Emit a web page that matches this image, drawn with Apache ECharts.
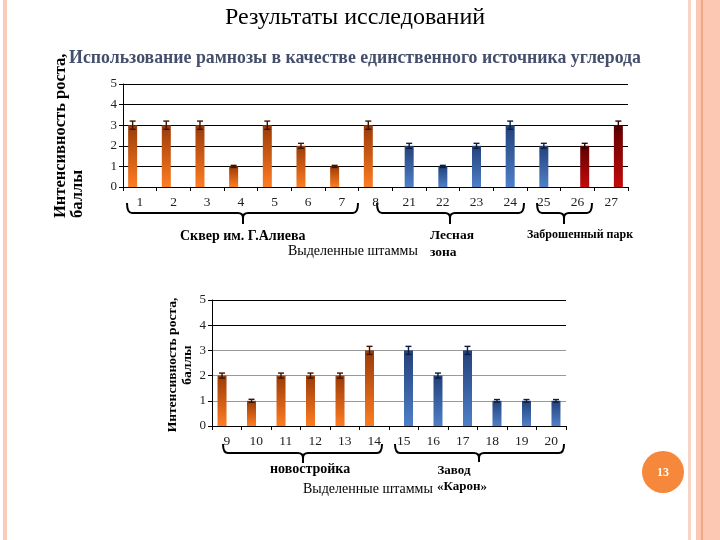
<!DOCTYPE html>
<html>
<head>
<meta charset="utf-8">
<script src="https://cdn.jsdelivr.net/npm/echarts@6/dist/echarts.min.js"></script>
<style>html,body{margin:0;padding:0;background:#fff}#c{width:720px;height:540px}</style>
</head>
<body>
<div id="c"></div>
<script>
// ---- Data: chart 1 (upper) ----
const cats1 = ['1','2','3','4','5','6','7','8','21','22','23','24','25','26','27'];
const orange1 = [3,3,3,1,3,2,1,3,null,null,null,null,null,null,null];
const blue1   = [null,null,null,null,null,null,null,null,2,1,2,3,2,null,null];
const red1    = [null,null,null,null,null,null,null,null,null,null,null,null,null,2,3];
const errOrange1 = [0.2,0.2,0.2,0.05,0.2,0.12,0.05,0.2,null,null,null,null,null,null,null];
const errBlue1   = [null,null,null,null,null,null,null,null,0.12,0.05,0.12,0.2,0.12,null,null];
const errRed1    = [null,null,null,null,null,null,null,null,null,null,null,null,null,0.12,0.2];

// ---- Data: chart 2 (lower) ----
const cats2 = ['9','10','11','12','13','14','15','16','17','18','19','20'];
const orange2 = [2,1,2,2,2,3,null,null,null,null,null,null];
const blue2   = [null,null,null,null,null,null,3,2,3,1,1,1];
const errOrange2 = [0.1,0.06,0.1,0.1,0.1,0.16,null,null,null,null,null,null];
const errBlue2   = [null,null,null,null,null,null,0.16,0.1,0.16,0.05,0.05,0.05];

const yTicks = [0,1,2,3,4,5];

// ---- Styles ----
const SERIF = '"Liberation Serif","Times New Roman",serif';
const BW1 = 9, GAP1 = -0.2;   // chart1 bar width / gap
const BW2 = 9, GAP2 = 0.05;   // chart2
const step1 = BW1*(1+GAP1), step2 = BW2*(1+GAP2);

function grad(top, bottom){
  return new echarts.graphic.LinearGradient(0,0,0,1,[{offset:0,color:top},{offset:1,color:bottom}]);
}
const ORANGE = grad('#9a3a08','#ff7d22');
const BLUE = grad('#22417a','#4f80c8');
const RED = grad('#5e0000','#c40a0a');

function toErr(vals, errs){
  return vals.map((v,i)=> v==null ? null : [i, v, errs[i]]).filter(Boolean);
}
function errRender(offset, color){
  return function(params, api){
    const x = api.value(0), v = api.value(1), e = api.value(2);
    const t = api.coord([x, v+e]), b = api.coord([x, v-e]);
    const cx = t[0] + offset, cap = 3;
    const st = {stroke: color, lineWidth: 1.4};
    return {type:'group', children:[
      {type:'line', shape:{x1:cx,y1:t[1],x2:cx,y2:b[1]}, style:st},
      {type:'line', shape:{x1:cx-cap,y1:t[1],x2:cx+cap,y2:t[1]}, style:st},
      {type:'line', shape:{x1:cx-cap,y1:b[1],x2:cx+cap,y2:b[1]}, style:st}
    ]};
  };
}

function xAxisCfg(grid, data){
  return {type:'category', gridIndex:grid, data:data,
    axisLine:{lineStyle:{color:'#000', width:1}},
    axisTick:{show:true, length:4, lineStyle:{color:'#000'}},
    axisLabel:{fontFamily:SERIF, fontSize:13.5, color:'#222', margin:8}};
}
function yAxisCfg(grid, splitColors){
  return {type:'value', gridIndex:grid, min:yTicks[0], max:yTicks[yTicks.length-1], interval:1,
    axisLine:{show:true, lineStyle:{color:'#000'}},
    axisTick:{show:true, length:4, lineStyle:{color:'#000'}},
    axisLabel:{fontFamily:SERIF, fontSize:13, color:'#222', margin:6},
    splitLine:{show:true, lineStyle:{color:splitColors, width:1}}};
}

function brace(x1, x2, xm, yTop, yMid, yBot){
  const r = 5;
  const st = {stroke:'#000', lineWidth:2, fill:null};
  const q = (ax,ay,cx,cy,bx,by)=>({type:'bezierCurve', shape:{x1:ax,y1:ay,cpx1:cx,cpy1:cy,x2:bx,y2:by}, style:st});
  const l = (ax,ay,bx,by)=>({type:'line', shape:{x1:ax,y1:ay,x2:bx,y2:by}, style:st});
  return {type:'group', z:10, children:[
    q(x1,yTop, x1,yMid, x1+r,yMid),
    l(x1+r,yMid, xm-r,yMid),
    q(xm-r,yMid, xm,yMid, xm,yMid+r),
    l(xm,yMid+r, xm,yBot),
    q(xm,yMid+r, xm,yMid, xm+r,yMid),
    l(xm+r,yMid, x2-r,yMid),
    q(x2-r,yMid, x2,yMid, x2,yTop)
  ]};
}
function txt(x, y, text, font, fill, align){
  return {type:'text', x:x, y:y, z:10, style:{text:text, font:font, fill:fill||'#000', align:align||'left', verticalAlign:'middle'}};
}

const chart = echarts.init(document.getElementById('c'), null, {renderer:'canvas'});
const option = {
  animation:false,
  backgroundColor:'#fff',
  grid:[
    {left:123, top:84, width:505, height:103},
    {left:212, top:300, width:354, height:126}
  ],
  xAxis:[xAxisCfg(0, cats1), xAxisCfg(1, cats2)],
  yAxis:[yAxisCfg(0, '#000'), yAxisCfg(1, ['#000','#999','#999','#999','#000','#000'])],
  series:[
    {type:'bar', xAxisIndex:0, yAxisIndex:0, data:orange1, barWidth:BW1, barGap:(GAP1*100)+'%', itemStyle:{color:ORANGE}},
    {type:'bar', xAxisIndex:0, yAxisIndex:0, data:blue1, barWidth:BW1, barGap:(GAP1*100)+'%', itemStyle:{color:BLUE}},
    {type:'bar', xAxisIndex:0, yAxisIndex:0, data:red1, barWidth:BW1, barGap:(GAP1*100)+'%', itemStyle:{color:RED}},
    {type:'bar', xAxisIndex:1, yAxisIndex:1, data:orange2, barWidth:BW2, barGap:(GAP2*100)+'%', itemStyle:{color:ORANGE}},
    {type:'bar', xAxisIndex:1, yAxisIndex:1, data:blue2, barWidth:BW2, barGap:(GAP2*100)+'%', itemStyle:{color:BLUE}},
    {type:'custom', xAxisIndex:0, yAxisIndex:0, data:toErr(orange1, errOrange1), renderItem:errRender(-step1, '#3a1404'), z:5},
    {type:'custom', xAxisIndex:0, yAxisIndex:0, data:toErr(blue1, errBlue1), renderItem:errRender(0, '#0e1d3d'), z:5},
    {type:'custom', xAxisIndex:0, yAxisIndex:0, data:toErr(red1, errRed1), renderItem:errRender(step1, '#300000'), z:5},
    {type:'custom', xAxisIndex:1, yAxisIndex:1, data:toErr(orange2, errOrange2), renderItem:errRender(-step2/2, '#3a1404'), z:5},
    {type:'custom', xAxisIndex:1, yAxisIndex:1, data:toErr(blue2, errBlue2), renderItem:errRender(step2/2, '#0e1d3d'), z:5}
  ],
  graphic:[
    // slide borders
    {type:'rect', shape:{x:3, y:0, width:4, height:540}, style:{fill:'#f9cdbc'}},
    {type:'rect', shape:{x:688, y:0, width:3, height:540}, style:{fill:'#f8d3c6'}},
    {type:'rect', shape:{x:696, y:0, width:24, height:540}, style:{fill:'#fcc7b3'}},
    {type:'rect', shape:{x:701, y:0, width:2, height:540}, style:{fill:'#f2a888'}},
    // titles
    txt(355, 18, 'Результаты исследований', '24px '+SERIF, '#000', 'center'),
    txt(355, 58, 'Использование рамнозы в качестве единственного источника углерода', 'bold 17.8px '+SERIF, '#454f6c', 'center'),
    // y-axis titles
    {type:'text', x:69, y:218, rotation:Math.PI/2, z:10, style:{text:'Интенсивность роста,\nбаллы', font:'bold 16.5px '+SERIF, fill:'#000', align:'left', verticalAlign:'middle', lineHeight:17}},
    {type:'text', x:180, y:365, rotation:Math.PI/2, z:10, style:{text:'Интенсивность роста,\nбаллы', font:'bold 13.5px '+SERIF, fill:'#000', align:'center', verticalAlign:'middle', lineHeight:15}},
    // chart 1 braces and labels
    brace(127, 358, 243, 203, 213, 224),
    brace(377, 524, 450, 203, 213, 224),
    brace(537, 592, 564, 203, 213, 224),
    txt(180, 236, 'Сквер им. Г.Алиева', 'bold 14px '+SERIF),
    txt(288, 251, 'Выделенные штаммы', '14px '+SERIF),
    txt(430, 236, 'Лесная', 'bold 13.5px '+SERIF),
    txt(430, 253, 'зона', 'bold 13.5px '+SERIF),
    txt(527, 235, 'Заброшенный парк', 'bold 12px '+SERIF),
    // chart 2 braces and labels
    brace(223, 382, 303, 444, 453, 463),
    brace(395, 564, 479, 444, 453, 462),
    txt(270, 469, 'новостройка', 'bold 14px '+SERIF),
    txt(454, 471, 'Завод', 'bold 13px '+SERIF, '#000', 'center'),
    txt(462, 487, '«Карон»', 'bold 13px '+SERIF, '#000', 'center'),
    txt(303, 489, 'Выделенные штаммы', '14px '+SERIF),
    // page number
    {type:'circle', shape:{cx:663, cy:472, r:21}, style:{fill:'#f5883a'}, z:10},
    txt(663, 473, '13', 'bold 12px '+SERIF, '#fff', 'center')
  ]
};
chart.setOption(option);
</script>
</body>
</html>
